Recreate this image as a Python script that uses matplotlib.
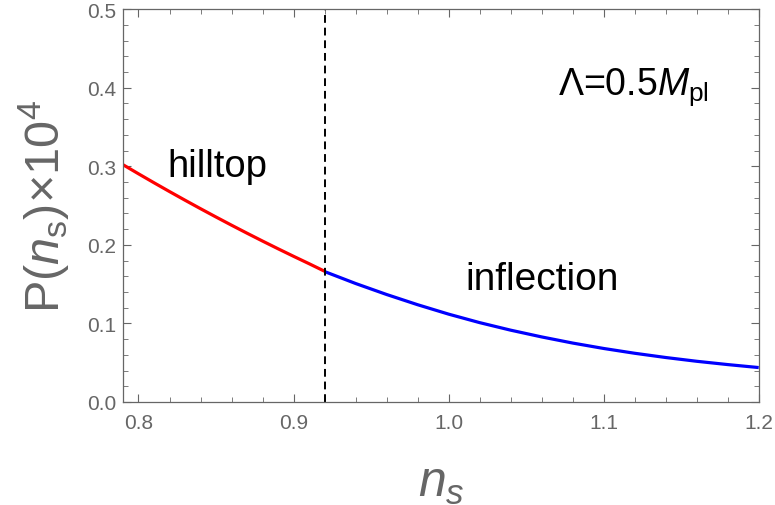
import numpy as np
import matplotlib
matplotlib.use("Agg")
import matplotlib.pyplot as plt
from matplotlib.ticker import MultipleLocator

plt.rcParams['font.family'] = ['Liberation Sans', 'DejaVu Sans']
plt.rcParams['mathtext.fontset'] = 'custom'
plt.rcParams['mathtext.rm'] = 'Liberation Sans'
plt.rcParams['mathtext.it'] = 'Liberation Sans:italic'

# hilltop branch (red)
ns_hill = [0.79, 0.80, 0.81, 0.82, 0.83, 0.84, 0.85, 0.86, 0.87, 0.88, 0.89, 0.90, 0.91, 0.92]
p_hill = [0.302, 0.2904, 0.2790, 0.2678, 0.2568, 0.2460, 0.2354, 0.2250, 0.2148,
          0.2048, 0.1950, 0.1854, 0.1760, 0.1664]

# inflection branch (blue)
ns_infl = [0.92, 0.94, 0.96, 0.98, 1.00, 1.02, 1.04, 1.06, 1.08, 1.10, 1.12, 1.14, 1.16, 1.18, 1.20]
p_infl = [0.1660, 0.1508, 0.1368, 0.1238, 0.1118, 0.1010, 0.0914, 0.0828, 0.0750,
          0.0681, 0.0620, 0.0566, 0.0518, 0.0476, 0.0438]

ns_split = 0.92

gray = '#666666'

fig = plt.figure(figsize=(7.75, 5.06), dpi=100)
ax = fig.add_axes([0.1587, 0.2036, 0.979 - 0.1587, 0.980 - 0.2036])

ax.plot(ns_hill, p_hill, color='#ff0000', lw=2.3, solid_capstyle='butt')
ax.plot(ns_infl, p_infl, color='#0000ff', lw=2.3, solid_capstyle='butt')
ax.axvline(ns_split, color='black', lw=1.4, ls=(0, (4, 2.5)))

ax.set_xlim(0.79, 1.2)
ax.set_ylim(0, 0.5)
ax.xaxis.set_major_locator(MultipleLocator(0.1))
ax.xaxis.set_minor_locator(MultipleLocator(0.02))
ax.yaxis.set_major_locator(MultipleLocator(0.1))
ax.yaxis.set_minor_locator(MultipleLocator(0.02))
ax.xaxis.set_major_formatter(plt.FuncFormatter(lambda v, p: f"{v:.1f}"))
ax.yaxis.set_major_formatter(plt.FuncFormatter(lambda v, p: f"{v:.1f}"))

ax.tick_params(which='both', direction='in', top=True, right=True, color=gray,
               labelcolor=gray, labelsize=15)
ax.tick_params(which='major', length=6, width=0.8)
ax.tick_params(which='minor', length=3.5, width=0.6)
ax.tick_params(axis='x', which='major', pad=8)
ax.tick_params(axis='y', which='major', pad=5)
for s in ax.spines.values():
    s.set_color(gray)
    s.set_linewidth(0.9)

ax.set_xlabel(r'$n_s$', fontsize=36, color=gray, labelpad=20)
ax.set_ylabel(r'P($n_\mathrm{s}$)$\times$10$^4$', fontsize=35, color=gray, labelpad=11)

ax.text(0.8186, 0.2875, 'hilltop', fontsize=27.5, color='black')
ax.text(1.011, 0.1438, 'inflection', fontsize=28, color='black')
ax.text(1.0705, 0.392, r'$\Lambda$=0.5$M_{\mathrm{pl}}$', fontsize=27, color='black')

fig.savefig('out.png', dpi=100)
